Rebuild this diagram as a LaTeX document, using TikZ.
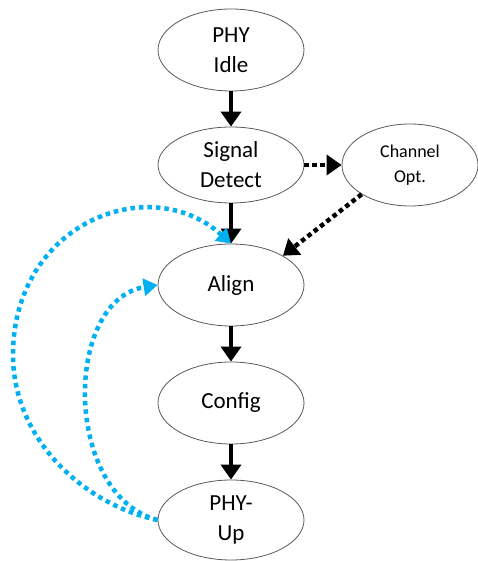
\documentclass[tikz,border=0pt]{standalone}
\usepackage{fontspec}
\setmainfont{Carlito}
\usepackage{tikz}
\usetikzlibrary{positioning, arrows.meta, shapes.geometric}
\definecolor{skyblue}{HTML}{00B0F0}

\begin{document}
\begin{tikzpicture}[x=1pt,y=1pt,on grid,
        state/.style={ellipse,draw=black!65,line width=0.8pt,minimum width=146pt,minimum height=82pt,
            inner sep=0pt,align=center,font=\fontsize{23}{30}\selectfont},
        go/.style={line width=4.5pt,-{Triangle[width=20pt,length=15pt]}},
        opt/.style={line width=4.5pt,dash pattern=on 4.5pt off 3.5pt,-{Triangle[width=20pt,length=15pt]}},
        back/.style={skyblue,line width=4.5pt,dash pattern=on 4.5pt off 4pt,-{Triangle[width=17pt,length=14pt]}}]
        \useasboundingbox (0,0) rectangle (478,561);

        \node[state] (I) at (231,511) {PHY\\Idle};
        \node[state,minimum height=76pt] (S) [below=115pt of I] {Signal\\Detect};
        \node[state,minimum width=136pt,font=\fontsize{18}{25}\selectfont] (C) [right=179pt of S] {Channel\\Opt.};
        \node[state] (A) [below=120pt of S] {Align};
        \node[state] (F) [below=118pt of A] {Config};
        \node[state,minimum height=80pt] (U) [below=117pt of F] {PHY-\\Up};

        \draw[go] (I) -- (S);
        \draw[go] (S) -- (A);
        \draw[go] (A) -- (F);
        \draw[go] (F) -- (U);
        \draw[opt] (S.east) -- (C.west);
        \draw[opt] (C.south west) -- (A.north east);

        % retrain paths
        \draw[back] (U.west) .. controls (85,56) and (13,121) .. (13,206)
            .. controls (13,338) and (150,391) .. (A.north);
        \draw[back] (U.west) .. controls (63,66) and (63,261) .. (A.west);

    \end{tikzpicture}
\end{document}
